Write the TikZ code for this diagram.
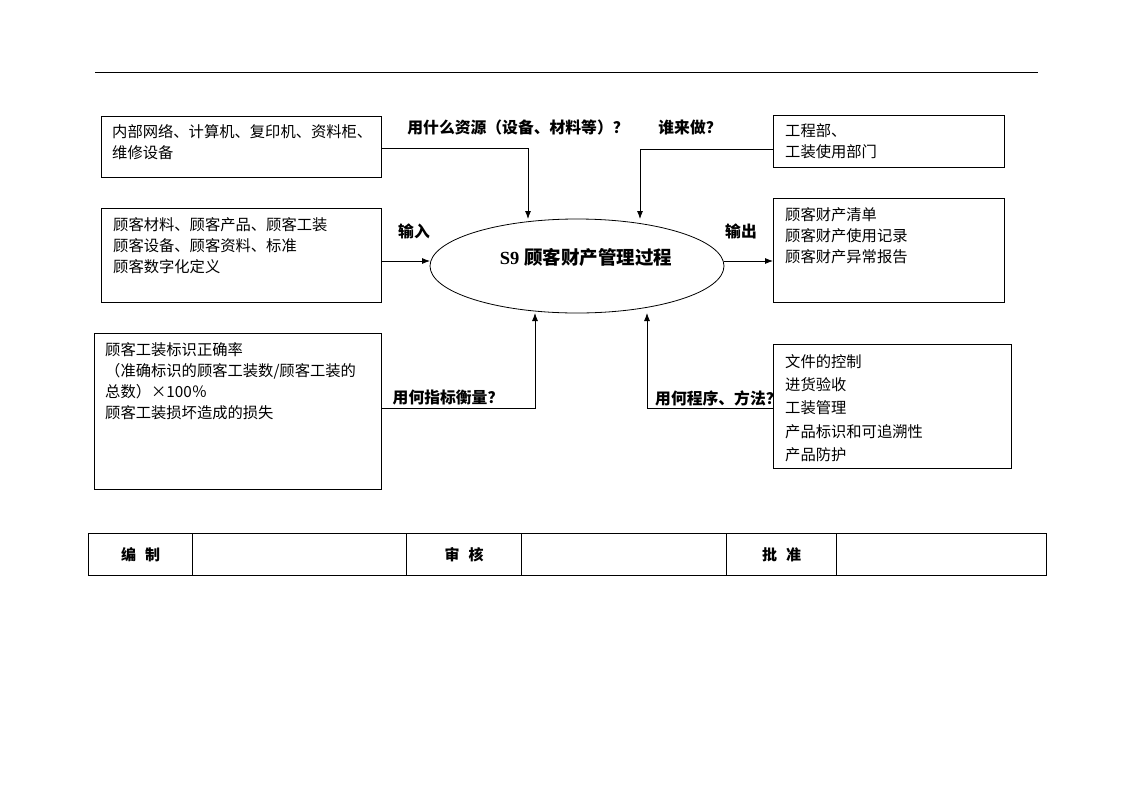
\documentclass[tikz,border=0pt]{standalone}
\usepackage{fontspec}
\setmainfont{Liberation Serif}
\newfontfamily\cjk{Noto Sans CJK SC}
\usetikzlibrary{shapes.geometric,arrows.meta}
\begin{document}
\begin{tikzpicture}[x=1pt,y=-1pt,
  box/.style={draw,line width=0.8pt,fill=white,inner sep=0,anchor=north west},
  txt/.style={inner sep=0,anchor=north west,align=left,font=\cjk\fontsize{15.3}{21}\selectfont},
  lbl/.style={inner sep=0,font=\cjk\bfseries\fontsize{15.8}{18}\selectfont},
  arr/.style={line width=0.8pt,-{Latex[length=8pt,width=6pt]}},
  cell/.style={draw,line width=1.1pt,inner sep=0,anchor=north west,minimum height=42pt,font=\cjk\bfseries\fontsize{15}{17}\selectfont}]
\useasboundingbox (0,0) rectangle (1122,793);
\draw[line width=0.8pt] (95,72) -- (1038,72);
% labels (drawn before boxes so box6 covers part of its label)
\node[lbl] (qres) at (518,127) {用什么资源（设备、材料等）？};
\node[lbl] (qwho) at (690,127) {谁来做？};
\node[lbl] (qin) at (414,231) {输入};
\node[lbl] (qout) at (741,231) {输出};
\node[lbl] (qkpi) at (448,398) {用何指标衡量？};
\node[lbl,anchor=west] (qproc) at (655,398) {用何程序、方法？};
% ellipse
\node[draw,ellipse,line width=0.8pt,minimum width=294pt,minimum height=94pt,inner sep=0] (proc) at (577,266) {};
\node[inner sep=0,font=\bfseries\fontsize{18.5}{20}\selectfont] (title) at (586,257) {S9 {\cjk 顾客财产管理过程}};
% boxes
\node[box,minimum width=280pt,minimum height=61pt] (b1) at (101,116) {};
\node[txt] (t1) at (112,124) {内部网络、计算机、复印机、资料柜、\\维修设备};
\node[box,minimum width=280pt,minimum height=94pt] (b2) at (101,208) {};
\node[txt] (t2) at (113,217) {顾客材料、顾客产品、顾客工装\\顾客设备、顾客资料、标准\\顾客数字化定义};
\node[box,minimum width=287pt,minimum height=156pt] (b3) at (94,333) {};
\node[txt] (t3) at (105,342) {顾客工装标识正确率\\（准确标识的顾客工装数/顾客工装的\\总数）×100％\\顾客工装损坏造成的损失};
\node[box,minimum width=231pt,minimum height=52pt] (b4) at (773,115) {};
\node[txt] (t4) at (785,123) {工程部、\\工装使用部门};
\node[box,minimum width=231pt,minimum height=104pt] (b5) at (773,198) {};
\node[txt] (t5) at (785,207) {顾客财产清单\\顾客财产使用记录\\顾客财产异常报告};
\node[box,minimum width=238pt,minimum height=124pt] (b6) at (773,344) {};
\node[txt,font=\cjk\fontsize{15.3}{23.3}\selectfont] (t6) at (785,354) {文件的控制\\进货验收\\工装管理\\产品标识和可追溯性\\产品防护};
% connector points
\coordinate (s1) at (381,148);
\coordinate (e1) at (528,219);
\coordinate (s4) at (773,149);
\coordinate (e4) at (640,219);
\coordinate (s2) at (381,261);
\coordinate (e2) at (430,261);
\coordinate (s5) at (724,261);
\coordinate (e5) at (773,261);
\coordinate (s3) at (381,408);
\coordinate (e3) at (535,313);
\coordinate (s6) at (773,408);
\coordinate (e6) at (647,313);
\draw[arr] (s1) -| (e1);
\draw[arr] (s4) -| (e4);
\draw[arr] (s2) -- (e2);
\draw[arr] (s5) -- (e5);
\draw[arr] (s3) -| (e3);
\draw[arr] (s6) -| (e6);
% sign-off table
\node[cell,minimum width=104pt] (c1) at (88,533) {编\hspace{0.6em}制};
\node[cell,minimum width=214pt] (c2) at (192,533) {};
\node[cell,minimum width=115pt] (c3) at (406,533) {审\hspace{0.6em}核};
\node[cell,minimum width=205pt] (c4) at (521,533) {};
\node[cell,minimum width=110pt] (c5) at (726,533) {批\hspace{0.6em}准};
\node[cell,minimum width=210pt] (c6) at (836,533) {};
\end{tikzpicture}
\end{document}
